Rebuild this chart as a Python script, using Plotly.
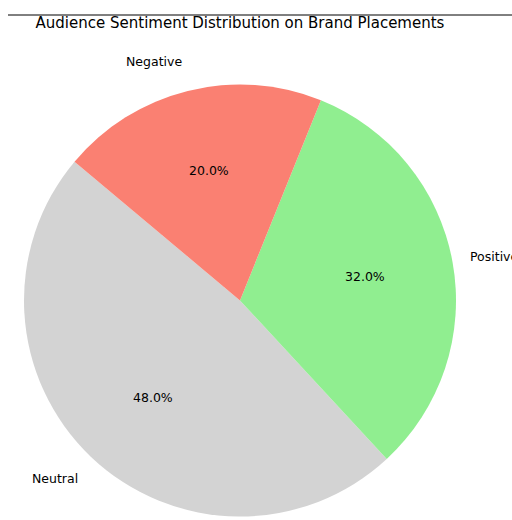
import math
import plotly.graph_objects as go

# Data
labels = ["Neutral", "Positive", "Negative"]
values = [48, 32, 20]
colors = ["#D3D3D3", "#90EE90", "#FA8072"]
title_text = "Audience Sentiment Distribution on Brand Placements"

W, H = 512, 520
start_angle = 140.0  # degrees, math convention, slices go counterclockwise

# Pie geometry (pixels)
cx_px, cy_px = 240.0, 300.5
R_px = 216.0
rx_px, ry_px = 211.0, 224.0  # used for label placement

total = sum(values)
# plotly (counterclockwise): first slice ends at 90 - rotation
rotation = 90 - (start_angle + 360.0 * values[0] / total)

fig = go.Figure()
fig.add_trace(go.Pie(
    labels=labels,
    values=values,
    sort=False,
    direction="counterclockwise",
    rotation=rotation,
    marker=dict(colors=colors, line=dict(width=0)),
    textinfo="none",
    hoverinfo="label+percent",
    showlegend=False,
    domain=dict(
        x=[(cx_px - R_px) / W, (cx_px + R_px) / W],
        y=[(H - cy_px - R_px) / H, (H - cy_px + R_px) / H],
    ),
))

annotations = []
theta = start_angle
font_lbl = dict(family="DejaVu Sans", size=12.5, color="#000000")
for lab, v in zip(labels, values):
    span = 360.0 * v / total
    mid = math.radians(theta + span / 2)
    c, s = math.cos(mid), math.sin(mid)
    # outer label at 1.1 radius
    lx = (cx_px + 1.1 * rx_px * c) / W
    ly = (H - cy_px + 1.1 * ry_px * s) / H
    annotations.append(dict(
        text=lab, x=lx, y=ly, xref="paper", yref="paper", showarrow=False,
        xanchor="left" if c > 0 else "right", yanchor="middle", font=font_lbl,
    ))
    # percent label at 0.6 radius
    px = (cx_px + 0.6 * rx_px * c) / W
    py = (H - cy_px + 0.6 * ry_px * s) / H
    annotations.append(dict(
        text=f"{100.0 * v / total:.1f}%", x=px, y=py, xref="paper", yref="paper",
        showarrow=False, xanchor="center", yanchor="middle", font=font_lbl,
    ))
    theta += span

fig.update_layout(
    width=W, height=H,
    margin=dict(l=0, r=0, t=0, b=0),
    paper_bgcolor="white",
    plot_bgcolor="white",
    title=dict(
        text=title_text,
        x=240 / W, xanchor="center", xref="paper",
        y=1 - 23 / H, yanchor="middle", yref="container",
        font=dict(family="DejaVu Sans", size=15, color="#000000"),
    ),
    annotations=annotations,
    shapes=[dict(
        type="line", xref="paper", yref="paper",
        x0=8 / W, x1=1.0, y0=1 - 15 / H, y1=1 - 15 / H,
        line=dict(color="#000000", width=1),
    )],
)

fig.write_html("out.html")
